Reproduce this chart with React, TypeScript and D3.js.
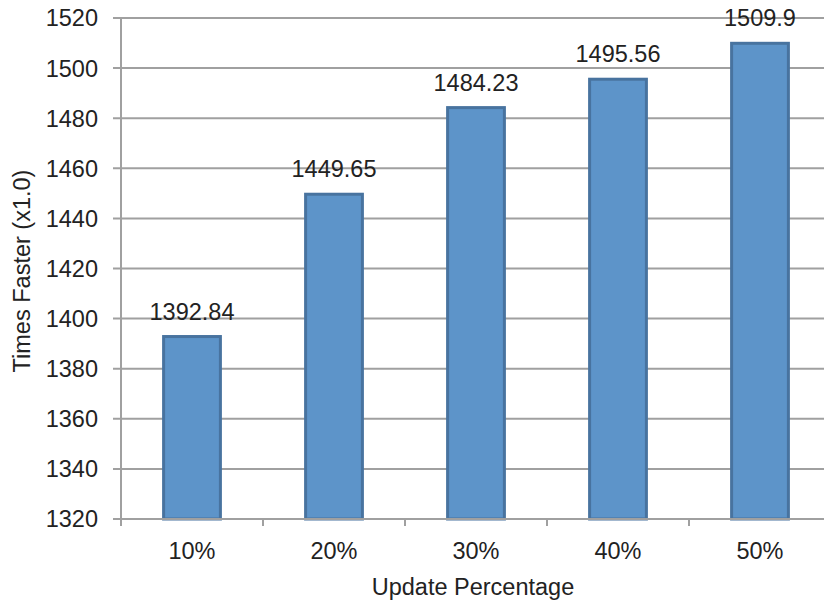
import React from "react";
import * as d3 from "d3";

const categories = ["10%", "20%", "30%", "40%", "50%"];
const values = [1392.84, 1449.65, 1484.23, 1495.56, 1509.9];
const valueLabels = ["1392.84", "1449.65", "1484.23", "1495.56", "1509.9"];
const yTicks = [1320, 1340, 1360, 1380, 1400, 1420, 1440, 1460, 1480, 1500, 1520];

const W = 824;
const H = 602;
const left = 121;
const right = 831;
const top = 18;
const bottom = 519;
const font = "'Liberation Sans', Arial, sans-serif";

export default function App() {
  const x = d3.scaleBand<string>().domain(categories).range([left, right]).padding(0);
  const y = d3.scaleLinear().domain([1320, 1520]).range([bottom, top]);
  const bw = x.bandwidth() * 0.4;
  const gridColor = "#a0a0a0";
  const edges = categories.map((c) => x(c) as number).concat([right]);

  return (
    <svg
      width={W}
      height={H}
      style={{ position: "absolute", left: 0, top: 0, background: "#fff" }}
      fontFamily={font}
    >
      {yTicks.map((t) => (
        <g key={t}>
          <line x1={left - 8} x2={right} y1={y(t)} y2={y(t)} stroke={gridColor} strokeWidth={2} />
          <text x={98} y={y(t)} dy="0.36em" textAnchor="end" fontSize={23.5} fill="#222">
            {t}
          </text>
        </g>
      ))}
      <line x1={left} x2={left} y1={top - 1} y2={bottom + 7} stroke={gridColor} strokeWidth={2} />
      {edges.map((e, i) => (
        <line key={i} x1={e} x2={e} y1={bottom} y2={bottom + 7} stroke={gridColor} strokeWidth={2} />
      ))}
      {categories.map((c, i) => {
        const cx = (x(c) as number) + x.bandwidth() / 2;
        const yt = y(values[i]);
        return (
          <g key={c}>
            <rect
              x={cx - bw / 2}
              y={yt}
              width={bw}
              height={bottom - yt}
              fill="#5d94c9"
              stroke="#48739f"
              strokeWidth={3}
            />
            <text x={cx} y={yt - 17} textAnchor="middle" fontSize={23.5} fill="#222">
              {valueLabels[i]}
            </text>
            <text x={cx} y={559} textAnchor="middle" fontSize={23.5} fill="#222">
              {c}
            </text>
          </g>
        );
      })}
      <line x1={left} x2={right} y1={bottom} y2={bottom} stroke={gridColor} strokeWidth={2} />
      <text x={473} y={595} textAnchor="middle" fontSize={23.5} fill="#222">
        Update Percentage
      </text>
      <text
        transform={`translate(30,271) rotate(-90)`}
        textAnchor="middle"
        fontSize={23.5}
        fill="#222"
      >
        Times Faster (x1.0)
      </text>
    </svg>
  );
}
